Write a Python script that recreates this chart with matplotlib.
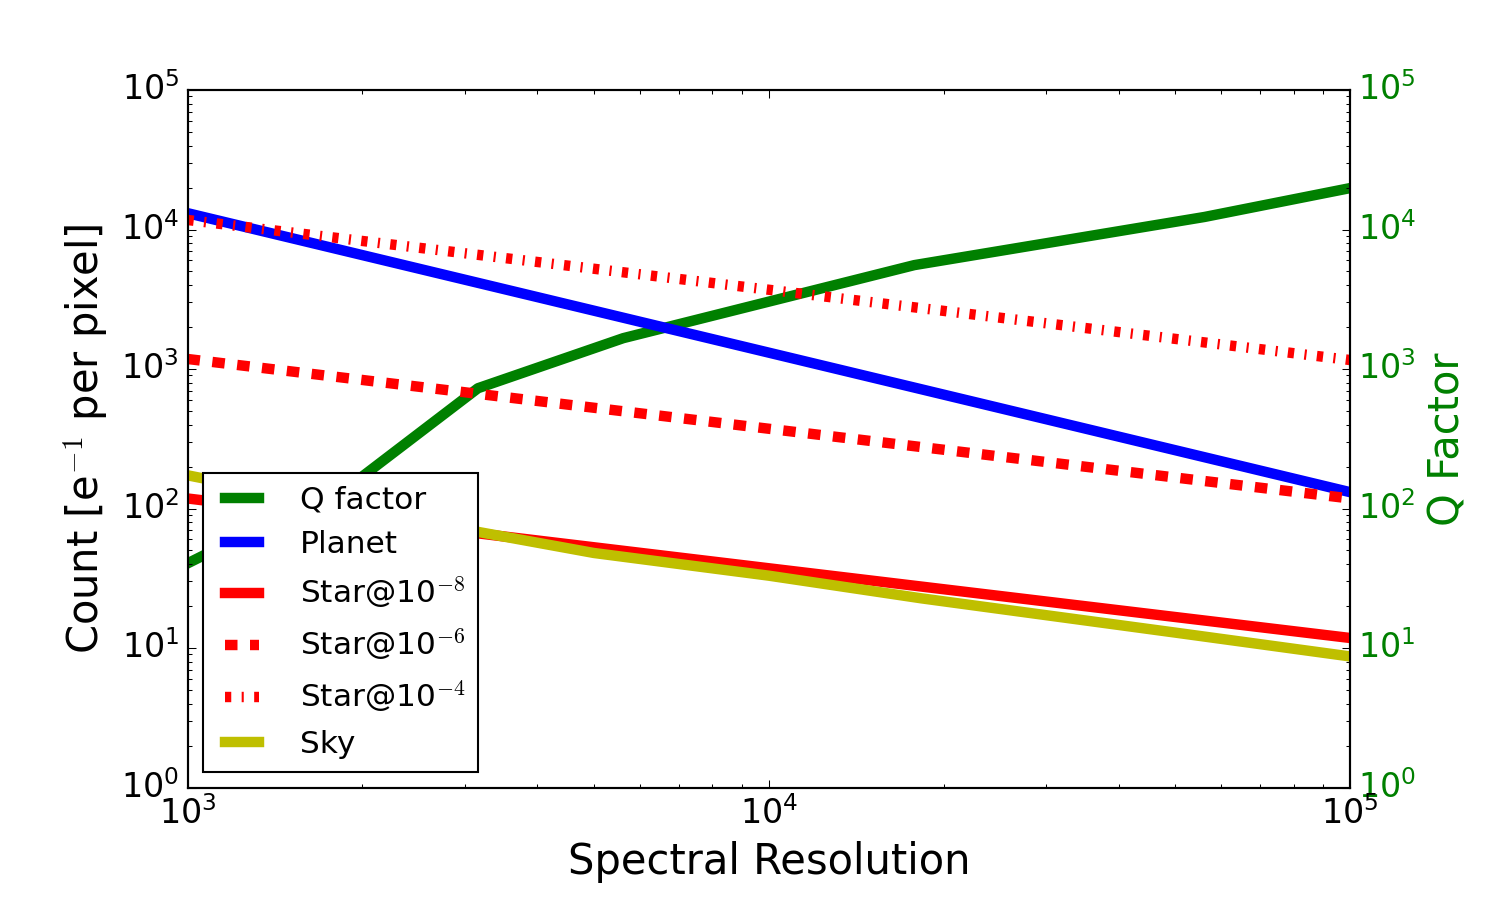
import matplotlib
matplotlib.use('Agg')
import matplotlib.pyplot as plt

# data
res_q = [1000, 2000, 3160, 5620, 17800, 56200, 100000]
q_factor = [40.4, 170, 728, 1664, 5555, 12300, 19800]

res = [1000, 10000, 100000]
planet = [13100, 1310, 131]
star_8 = [118, 37.3, 11.8]
star_6 = [1180, 373, 118]
star_4 = [11700, 3700, 1160]

res_sky = [1000, 2000, 3190, 5000, 10000, 18300, 50000, 100000]
sky = [173, 98, 67.5, 48, 33, 22.7, 12.9, 8.7]

plt.style.use('classic')
fig = plt.figure(figsize=(10, 6), dpi=150)
fig.subplots_adjust(left=0.125, right=0.9, top=0.9, bottom=0.125)
ax = fig.add_subplot(111)
ax2 = ax.twinx()

# Q factor on the right axis, kept underneath the count curves
l_q, = ax2.plot(res_q, q_factor, color='g', lw=5, label='Q factor')
ax.set_zorder(ax2.get_zorder() + 1)
ax.patch.set_visible(False)

l_p, = ax.plot(res, planet, color='b', lw=5, label='Planet')
l_s8, = ax.plot(res, star_8, color='r', lw=5, label='Star@10$^{-8}$')
l_s6, = ax.plot(res, star_6, color='r', lw=5, linestyle='--', label='Star@10$^{-6}$')
l_s4, = ax.plot(res, star_4, color='r', lw=5, linestyle='-.', label='Star@10$^{-4}$')
l_sky, = ax.plot(res_sky, sky, color='y', lw=5, label='Sky')

for a in (ax, ax2):
    a.set_xscale('log')
    a.set_yscale('log')
    a.set_xlim(1e3, 1e5)
    a.set_ylim(1e0, 1e5)

ax.tick_params(axis='both', which='major', labelsize=16)
ax2.tick_params(axis='y', which='major', labelsize=16, labelcolor='g')

ax.set_xlabel('Spectral Resolution', fontsize=20)
ax.set_ylabel('Count [e$^{-1}$ per pixel]', fontsize=20)
ax2.set_ylabel('Q Factor', fontsize=20, color='g')

lines = [l_q, l_p, l_s8, l_s6, l_s4, l_sky]
ax.legend(lines, [l.get_label() for l in lines], loc='lower left', fontsize=15,
          handlelength=1.7, handletextpad=1.0)

fig.savefig('out.png', dpi=150)
